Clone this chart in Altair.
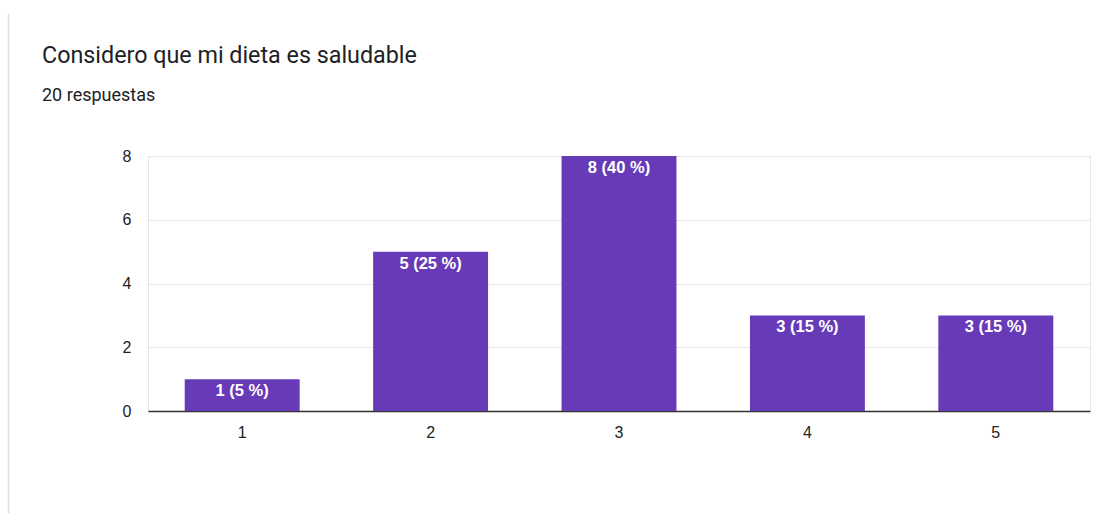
import altair as alt
import pandas as pd

categories = ["1", "2", "3", "4", "5"]
counts = [1, 5, 8, 3, 3]
labels = ["1 (5 %)", "5 (25 %)", "8 (40 %)", "3 (15 %)", "3 (15 %)"]
title_text = "Considero que mi dieta es saludable"
subtitle_text = "20 respuestas"

df = pd.DataFrame({"cat": categories, "n": counts, "lab": labels})

W, H = 942, 255
LEFT, TOP = 148, 156
FONT = "Roboto"
CFONT = "Liberation Sans"

x = alt.X("cat:N", sort=categories, title=None,
          scale=alt.Scale(paddingInner=0.39, paddingOuter=0.195),
          axis=alt.Axis(labelAngle=0, ticks=False, domain=True, domainColor="#333333",
                        domainWidth=1.5, labelPadding=13, labelFontSize=16,
                        labelColor="#222222", labelFont=CFONT, grid=False))
y = alt.Y("n:Q", title=None, scale=alt.Scale(domain=[0, 8], nice=False),
          axis=alt.Axis(values=[0, 1, 2, 3, 4, 5, 6, 7, 8], ticks=False, domain=False,
                        labelExpr="datum.value % 2 === 0 ? datum.label : ''",
                        labelPadding=17, labelFontSize=16, labelColor="#222222",
                        labelFont=CFONT,
                        gridColor={"condition": {"test": "datum.value % 2 === 0", "value": "#e6e6e6"},
                                   "value": "#f4f4f4"},
                        gridWidth=1))

bars = alt.Chart(df).mark_bar(color="#673ab7").encode(x=x, y=y)

text = alt.Chart(df).mark_text(baseline="top", dy=4, color="white", fontSize=16.5,
                               font=CFONT, fontWeight="bold").encode(
    x=alt.X("cat:N", sort=categories), y=alt.Y("n:Q"), text="lab:N")

title = alt.Chart(pd.DataFrame({"t": [title_text]})).mark_text(
    align="left", baseline="alphabetic", fontSize=23.3, font=FONT, color="#202124"
).encode(x=alt.value(42 - LEFT), y=alt.value(63 - TOP), text="t:N")

subtitle = alt.Chart(pd.DataFrame({"t": [subtitle_text]})).mark_text(
    align="left", baseline="alphabetic", fontSize=18, font=FONT, color="#202124"
).encode(x=alt.value(42 - LEFT), y=alt.value(101 - TOP), text="t:N")

border = alt.Chart(pd.DataFrame({"a": [0]})).mark_rule(color="#dadce0", strokeWidth=1.5).encode(
    x=alt.value(8.5 - LEFT), y=alt.value(14 - TOP), y2=alt.value(513 - TOP))

chart = alt.layer(border, bars, text, title, subtitle).properties(
    width=W, height=H,
    padding={"left": LEFT, "top": TOP, "right": 1101 - LEFT - W, "bottom": 513 - TOP - H},
    autosize=alt.AutoSizeParams(type="none"),
    background="white",
).configure_view(stroke="#e6e6e6")

chart.save("out.html", embed_options={"renderer": "svg", "actions": False})
